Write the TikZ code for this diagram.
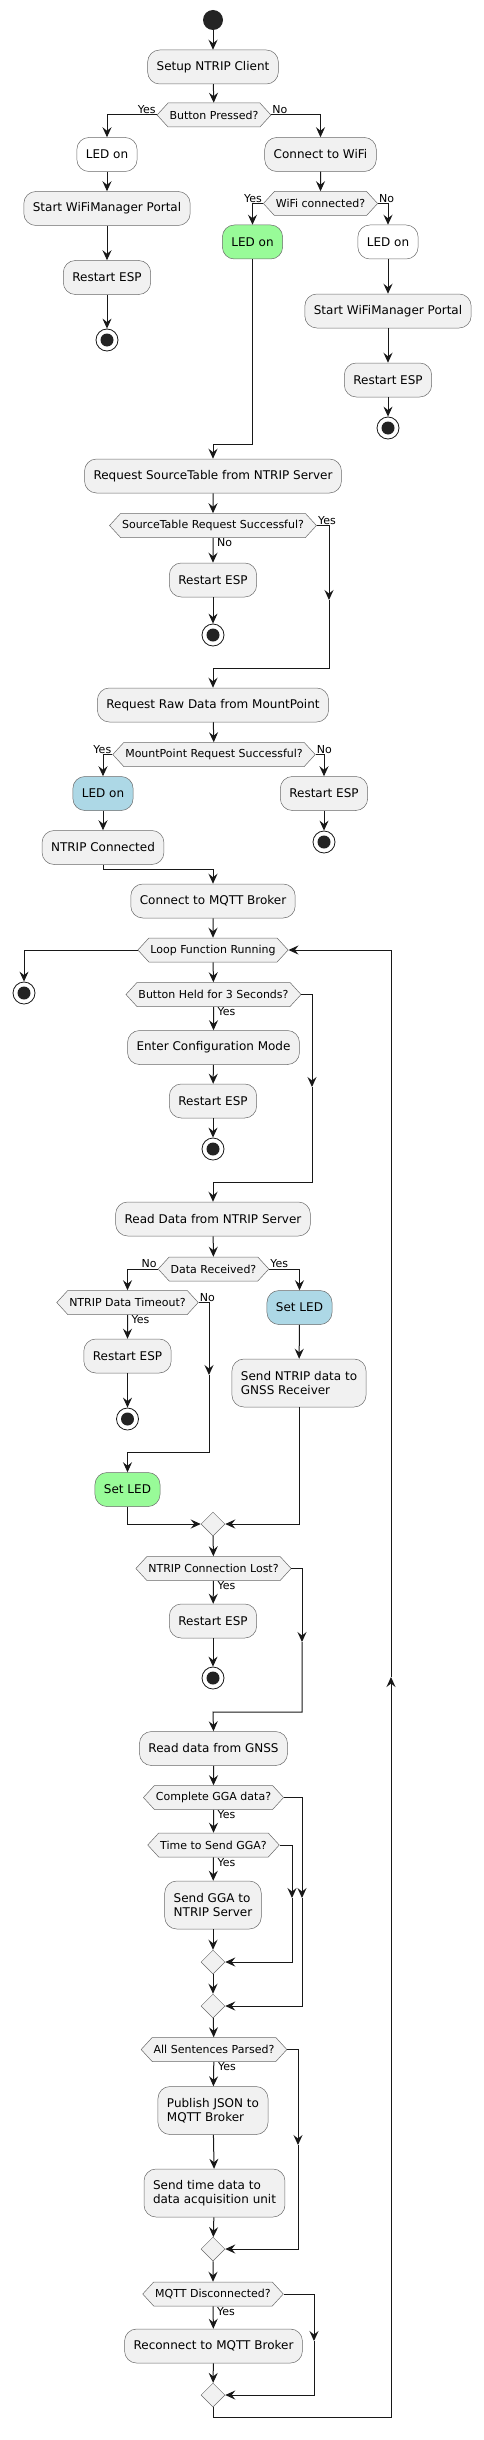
\documentclass[tikz,border=0pt]{standalone}
\usepackage{fontspec}
\setmainfont{DejaVu Sans}
\usetikzlibrary{arrows.meta,shapes.symbols,shapes.geometric}
\definecolor{umlfill}{HTML}{F1F1F1}
\definecolor{umlline}{HTML}{181818}
\definecolor{umlgreen}{HTML}{98FB98}
\definecolor{umlblue}{HTML}{ADD8E6}

\begin{document}
\begin{tikzpicture}[x=1pt, y=-1pt,
  box/.style={draw=umlline!65, line width=0.5pt, fill=umlfill, rounded corners=12pt, minimum height=34pt, inner xsep=9pt, inner ysep=4pt, font=\fontsize{12}{14}\selectfont, align=left},
  tallbox/.style={box, minimum height=48pt},
  hexa/.style={signal, signal to=west and east, signal pointer angle=95, draw=umlline!65, line width=0.5pt, fill=umlfill, minimum height=24pt, inner xsep=1.5pt, inner ysep=2pt, font=\fontsize{11}{13}\selectfont},
  merge/.style={diamond, draw=umlline!65, line width=0.5pt, fill=umlfill, minimum width=24pt, minimum height=24pt, inner sep=0pt},
  startnode/.style={circle, fill=umlline!95, minimum size=20pt, inner sep=0pt},
  stopnode/.style={circle, draw=umlline, line width=0.8pt, fill=white, minimum size=22pt, inner sep=0pt, path picture={\fill [umlline!95] (path picture bounding box.center) circle (6.5pt);}},
  lbl/.style={font=\fontsize{11}{13}\selectfont, inner sep=1pt},
  arr/.style={draw=umlline, line width=1pt, -{Stealth[length=10pt, width=9pt, inset=3.5pt]}}]
\useasboundingbox (0, 0) rectangle (483, 2440);

\node [startnode] (start) at (213, 20) {};
\node [box] (setup) at (213, 67) {Setup NTRIP Client};
\node [hexa, label={[lbl, anchor=south east]left:Yes}, label={[lbl, anchor=south west]right:No}] (bp) at (214, 115) {Button Pressed?};
\node [box, fill=white] (led1) at (107, 154.5) {LED on};
\node [box] (wifi) at (320.5, 154.5) {Connect to WiFi};
\node [box] (portal1) at (107, 208.5) {Start WiFiManager Portal};
\node [box] (restart1) at (107, 277.5) {Restart ESP};
\node [stopnode] (stop1) at (107, 340) {};
\node [hexa, label={[lbl, anchor=south east]left:Yes}, label={[lbl, anchor=south west]right:No}] (wc) at (320.5, 203.5) {WiFi connected?};
\node [box, fill=umlgreen] (led2) at (252.5, 242) {LED on};
\node [box, fill=white] (led3) at (388, 242) {LED on};
\node [box] (portal2) at (388, 311) {Start WiFiManager Portal};
\node [box] (restart2) at (388, 380) {Restart ESP};
\node [stopnode] (stop2) at (388, 428) {};

\node [box] (src) at (213, 476) {Request SourceTable from NTRIP Server};
\node [hexa, label={[lbl, anchor=south west]right:Yes}, label={[lbl, anchor=north west, xshift=3pt]below:No}] (srcok) at (213, 525.5) {SourceTable Request Successful?};
\node [box] (restart3) at (213, 580) {Restart ESP};
\node [stopnode] (stop3) at (213, 635) {};
\node [box] (raw) at (213, 705) {Request Raw Data from MountPoint};
\node [hexa, label={[lbl, anchor=south east]left:Yes}, label={[lbl, anchor=south west]right:No}] (rawok) at (214, 754.5) {MountPoint Request Successful?};
\node [box, fill=umlblue] (led4) at (103, 793.5) {LED on};
\node [box] (restart4) at (324, 793.5) {Restart ESP};
\node [stopnode] (stop4) at (324, 842) {};
\node [box] (ntripok) at (103, 847.5) {NTRIP Connected};
\node [box] (mqtt) at (213, 901) {Connect to MQTT Broker};

\node [hexa] (loop) at (213, 950) {Loop Function Running};
\node [stopnode] (stop5) at (24, 993) {};
\node [hexa, label={[lbl, anchor=north west, xshift=3pt]below:Yes}] (held) at (213.5, 994.5) {Button Held for 3 Seconds?};
\node [box] (config) at (213.5, 1047.5) {Enter Configuration Mode};
\node [box] (restart5) at (213, 1101) {Restart ESP};
\node [stopnode] (stop6) at (213, 1149) {};
\node [box] (readntrip) at (213, 1219) {Read Data from NTRIP Server};
\node [hexa, label={[lbl, anchor=south east]left:No}, label={[lbl, anchor=south west]right:Yes}] (recv) at (213.5, 1269) {Data Received?};
\node [hexa, label={[lbl, anchor=south west]right:No}, label={[lbl, anchor=north west, xshift=3pt]below:Yes}] (timeout) at (127.5, 1302.5) {NTRIP Data Timeout?};
\node [box] (restart6) at (127.5, 1356) {Restart ESP};
\node [stopnode] (stop7) at (127.5, 1419) {};
\node [box, fill=umlblue] (setled1) at (299.5, 1307.5) {Set LED};
\node [tallbox] (sendntrip) at (299, 1383) {Send NTRIP data to\\GNSS Receiver};
\node [box, fill=umlgreen] (setled2) at (127.5, 1489.5) {Set LED};
\node [merge] (merge1) at (213, 1524) {};

\node [hexa, label={[lbl, anchor=north west, xshift=3pt]below:Yes}] (lost) at (213.5, 1568.5) {NTRIP Connection Lost?};
\node [box] (restart7) at (213, 1621) {Restart ESP};
\node [stopnode] (stop8) at (213, 1678) {};
\node [box] (readgnss) at (213.5, 1748.5) {Read data from GNSS};
\node [hexa, label={[lbl, anchor=north west, xshift=3pt]below:Yes}] (gga) at (213.5, 1797.5) {Complete GGA data?};
\node [hexa, label={[lbl, anchor=north west, xshift=3pt]below:Yes}] (ggatime) at (213.5, 1845) {Time to Send GGA?};
\node [tallbox] (sendgga) at (213, 1905) {Send GGA to\\NTRIP Server};
\node [merge] (merge2) at (213, 1962) {};
\node [merge] (merge3) at (213, 2006) {};
\node [hexa, label={[lbl, anchor=north west, xshift=3pt]below:Yes}] (parsed) at (214, 2049.5) {All Sentences Parsed?};
\node [tallbox] (publish) at (213, 2110.5) {Publish JSON to\\MQTT Broker};
\node [tallbox] (sendtime) at (214.5, 2193) {Send time data to\\data acquisition unit};
\node [merge] (merge4) at (213, 2249) {};
\node [hexa, label={[lbl, anchor=north west, xshift=3pt]below:Yes}] (mqttdis) at (213, 2294) {MQTT Disconnected?};
\node [box] (reconnect) at (213.5, 2346) {Reconnect to MQTT Broker};
\node [merge] (merge5) at (213, 2395) {};

\coordinate (j1) at (213, 444);
\coordinate (m1) at (329, 600);
\coordinate (j2) at (213, 668);
\coordinate (j3) at (213, 869);
\coordinate (m2) at (312, 1087);
\coordinate (j4) at (213, 1182);
\coordinate (m3) at (209, 1375);
\coordinate (j5) at (127.5, 1452);
\coordinate (m4) at (302, 1642);
\coordinate (j6) at (213, 1712);
\coordinate (m5) at (292, 1898);
\coordinate (m6) at (302, 1898);
\coordinate (m7) at (298, 2145);
\coordinate (m8) at (314, 2341);
\coordinate (j7) at (391, 2417);
\coordinate (m9) at (391, 1677);

\draw [arr] (start) -- (setup);
\draw [arr] (setup) -- (bp);
\draw [arr] (bp.west) -| (led1.north);
\draw [arr] (bp.east) -| (wifi.north);
\draw [arr] (led1) -- (portal1);
\draw [arr] (portal1) -- (restart1);
\draw [arr] (restart1) -- (stop1);
\draw [arr] (wifi) -- (wc);
\draw [arr] (wc.west) -| (led2.north);
\draw [arr] (wc.east) -| (led3.north);
\draw [arr] (led3) -- (portal2);
\draw [arr] (portal2) -- (restart2);
\draw [arr] (restart2) -- (stop2);
\draw [arr] (led2.south) |- (j1) -- (src.north);

\draw [arr] (src) -- (srcok);
\draw [arr] (srcok) -- (restart3);
\draw [arr] (restart3) -- (stop3);
\draw [arr] (srcok.east) -| (m1);
\draw [arr] (m1) |- (j2) -- (raw.north);
\draw [arr] (raw) -- (rawok);
\draw [arr] (rawok.west) -| (led4.north);
\draw [arr] (rawok.east) -| (restart4.north);
\draw [arr] (restart4) -- (stop4);
\draw [arr] (led4) -- (ntripok);
\draw [arr] (ntripok.south) |- (j3) -- (mqtt.north);
\draw [arr] (mqtt) -- (loop);

\draw [arr] (loop.west) -| (stop5.north);
\draw [arr] (loop) -- (held);
\draw [arr] (held) -- (config);
\draw [arr] (config) -- (restart5);
\draw [arr] (restart5) -- (stop6);
\draw [arr] (held.east) -| (m2);
\draw [arr] (m2) |- (j4) -- (readntrip.north);
\draw [arr] (readntrip) -- (recv);
\draw [arr] (recv.west) -| (timeout.north);
\draw [arr] (recv.east) -| (setled1.north);
\draw [arr] (timeout) -- (restart6);
\draw [arr] (restart6) -- (stop7);
\draw [arr] (timeout.east) -| (m3);
\draw [arr] (m3) |- (j5) -- (setled2.north);
\draw [arr] (setled1) -- (sendntrip);
\draw [arr] (setled2.south) |- (merge1.west);
\draw [arr] (sendntrip.south) |- (merge1.east);
\draw [arr] (merge1) -- (lost);

\draw [arr] (lost) -- (restart7);
\draw [arr] (restart7) -- (stop8);
\draw [arr] (lost.east) -| (m4);
\draw [arr] (m4) |- (j6) -- (readgnss.north);
\draw [arr] (readgnss) -- (gga);
\draw [arr] (gga) -- (ggatime);
\draw [arr] (ggatime) -- (sendgga);
\draw [arr] (sendgga) -- (merge2);
\draw [arr] (ggatime.east) -| (m5);
\draw [arr] (m5) |- (merge2.east);
\draw [arr] (gga.east) -| (m6);
\draw [arr] (m6) |- (merge3.east);
\draw [arr] (merge2) -- (merge3);
\draw [arr] (merge3) -- (parsed);
\draw [arr] (parsed) -- (publish);
\draw [arr] (publish) -- (sendtime);
\draw [arr] (sendtime) -- (merge4);
\draw [arr] (parsed.east) -| (m7);
\draw [arr] (m7) |- (merge4.east);
\draw [arr] (merge4) -- (mqttdis);
\draw [arr] (mqttdis) -- (reconnect);
\draw [arr] (reconnect) -- (merge5);
\draw [arr] (mqttdis.east) -| (m8);
\draw [arr] (m8) |- (merge5.east);
\draw [arr] (merge5.south) |- (j7) -- (m9);
\draw [arr] (m9) |- (loop.east);
\end{tikzpicture}
\end{document}
